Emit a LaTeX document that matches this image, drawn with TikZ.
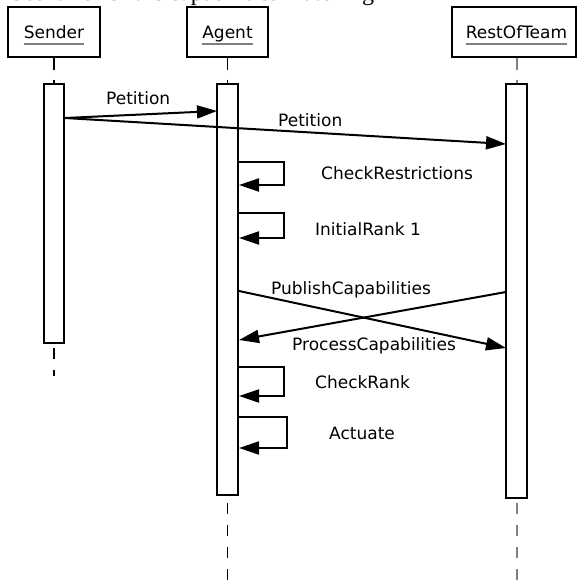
\documentclass[tikz,border=0pt]{standalone}
\usepackage{fontspec}
\setmainfont{DejaVu Sans}
\newfontfamily\capfont{Liberation Serif}
\usetikzlibrary{arrows.meta}
\begin{document}
\begin{tikzpicture}[x=1pt,y=-1pt,
  lbl/.style={font=\fontsize{17}{19}\selectfont, inner sep=0pt, anchor=base west},
  head/.style={font=\fontsize{17}{19}\selectfont, inner sep=0pt, anchor=base},
  actor/.style={draw, line width=2pt, minimum height=50pt, inner sep=0pt},
  bar/.style={draw, fill=white, line width=2pt, inner sep=0pt},
  msg/.style={line width=2pt, -{Triangle[length=20pt,width=13pt]}},
  uline/.style={draw=gray, line width=2pt},
  lifeup/.style={line width=1.2pt, dash pattern=on 12pt off 10pt},
  lifedown/.style={line width=1.2pt, dash pattern=on 11pt off 11pt},
]
\useasboundingbox (0,0) rectangle (577,580);
\clip (0,0) rectangle (577,580);

% caption line running above the diagram
\node[font=\capfont\fontsize{24}{24}\selectfont, anchor=base west, inner sep=0pt]
  (caption) at (10,0.3) {Scenario for the capabilities matching};

% participant boxes
\node[actor, minimum width=92pt]  (sender) at (54,32) {};
\node[actor, minimum width=81pt]  (agent)  at (227.5,32) {};
\node[actor, minimum width=124pt] (rest)   at (514,32) {};

\node[head] (sendertxt) at (54,38.5)    {Sender};
\node[head] (agenttxt)  at (227.5,38.5) {Agent};
\node[head] (resttxt)   at (516.5,38.5) {RestOfTeam};
\foreach \t in {sendertxt,agenttxt,resttxt}
  \draw[uline] ([yshift=-5.5pt]\t.base west) -- ([yshift=-5.5pt]\t.base east);

% activation bars
\node[bar, minimum width=20pt, minimum height=259pt] (senderbar) at (54,213.5) {};
\node[bar, minimum width=21pt, minimum height=411pt] (agentbar)  at (227.5,289.5) {};
\node[bar, minimum width=21pt, minimum height=414pt] (restbar)   at (516.5,291) {};

% lifelines
\draw[lifeup] (sender.south) -- (senderbar.north);
\draw[lifeup] (agent.south) -- (agentbar.north);
\draw[lifeup, gray, line width=2pt] (restbar.north |- rest.south) -- (restbar.north);
\coordinate (senderend) at (54,376);
\coordinate (agentend)  at (227.5,582);
\coordinate (restend)   at (516.5,582);
\draw[lifedown] ([yshift=-4pt]senderbar.south) -- (senderend);
\draw[lifedown] ([yshift=-7pt]agentbar.south) -- (agentend);
\draw[lifedown, gray, line width=2pt] ([yshift=-4pt]restbar.south) -- (restend);

% message end points on the bars
\coordinate (p1a) at (65,118);   \coordinate (p1b) at (217,111);
\coordinate (p2b) at (506,144);
\coordinate (pub1) at (239,291); \coordinate (pub2) at (506,348);
\coordinate (pro1) at (506,292); \coordinate (pro2) at (239,340);

% messages
\draw[msg] (p1a) -- (p1b);
\draw[msg] (p1a) -- (p2b);
\draw[msg] (pub1) -- (pub2);
\draw[msg] (pro1) -- (pro2);

% self messages on the agent
\coordinate (cr1) at (239,162); \coordinate (cr2) at (239,185);
\coordinate (ir1) at (239,213); \coordinate (ir2) at (239,238);
\coordinate (ck1) at (239,367); \coordinate (ck2) at (239,396);
\coordinate (ac1) at (239,417); \coordinate (ac2) at (239,448);
\draw[msg] (cr1) -- (284,162) -- (284,185) -- (cr2);
\draw[msg] (ir1) -- (284,213) -- (284,238) -- (ir2);
\draw[msg] (ck1) -- (284,367) -- (284,396) -- (ck2);
\draw[msg] (ac1) -- (287,417) -- (287,448) -- (ac2);

% message labels
\node[lbl] (l1) at (106,105) {Petition};
\node[lbl] (l2) at (278,127) {Petition};
\node[lbl] (l3) at (321,179) {CheckRestrictions};
\node[lbl] (l4) at (315,235) {InitialRank 1};
\node[lbl] (l5) at (271,294) {PublishCapabilities};
\node[lbl] (l6) at (292,350) {ProcessCapabilities};
\node[lbl] (l7) at (315,388) {CheckRank};
\node[lbl] (l8) at (329,439) {Actuate};
\end{tikzpicture}
\end{document}
